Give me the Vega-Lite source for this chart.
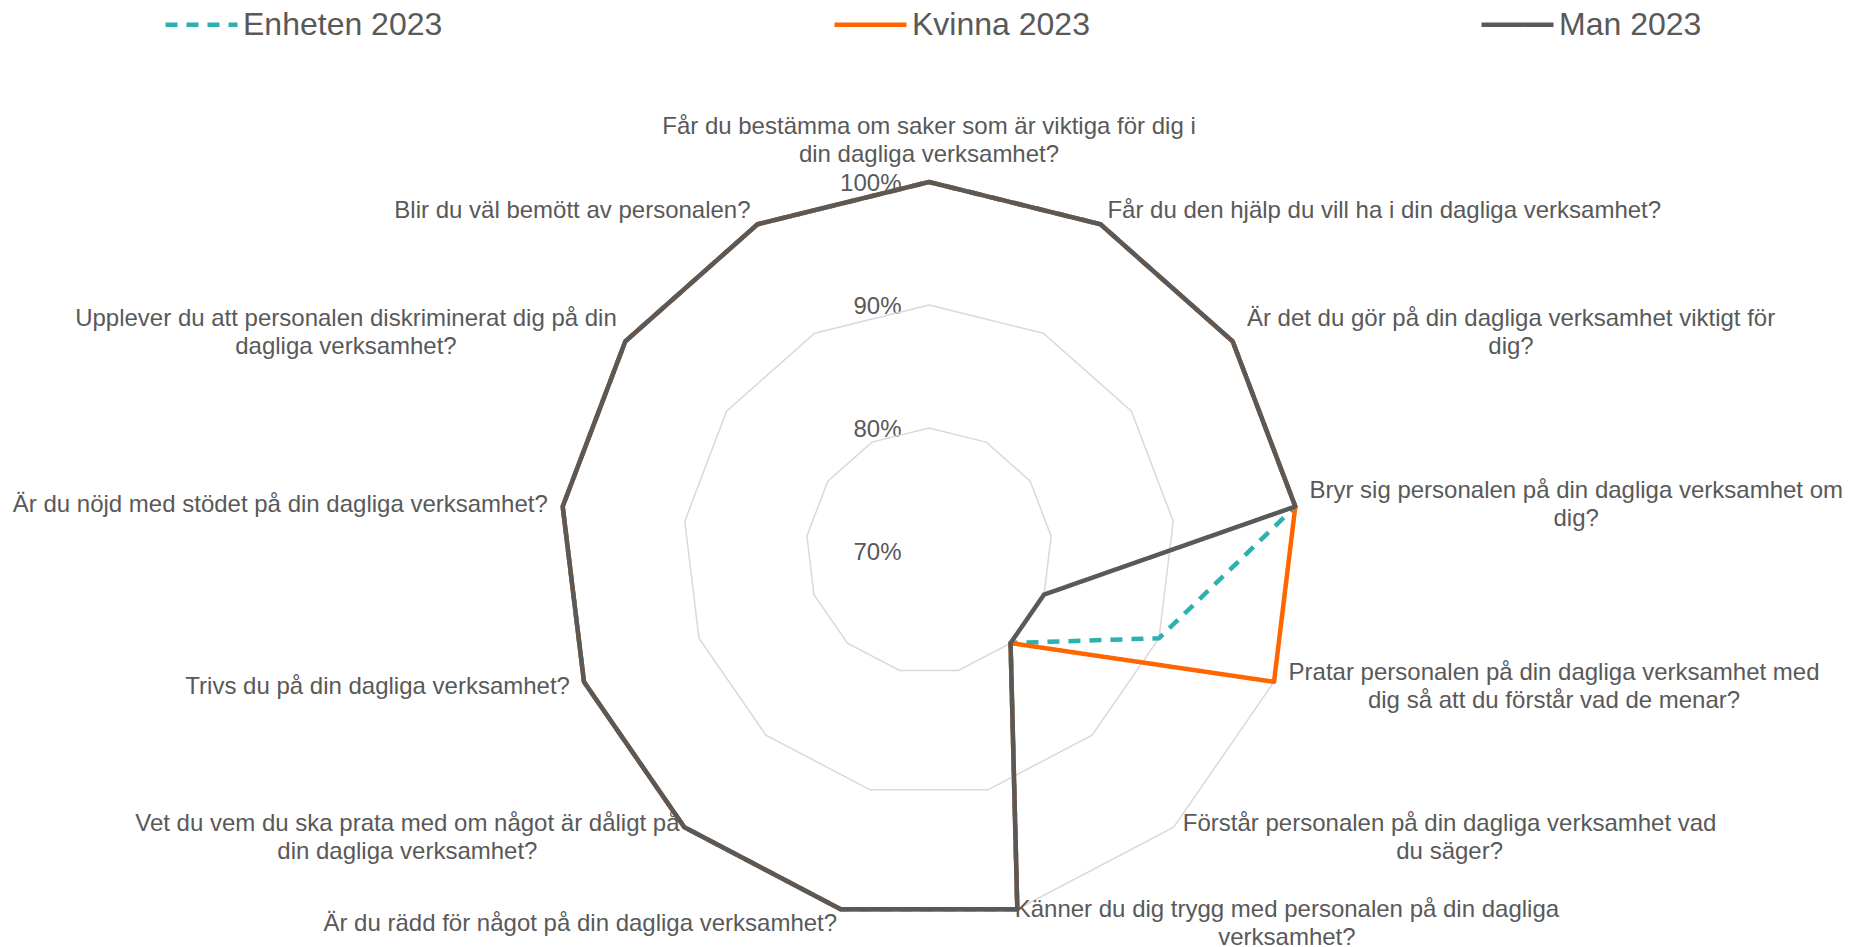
{
  "$schema": "https://vega.github.io/schema/vega-lite/v6.json",
  "width": 1849,
  "height": 947,
  "autosize": {"type": "none"},
  "padding": 0,
  "background": "white",
  "config": {"view": {"stroke": null}, "font": "Liberation Sans"},
  "datasets": {
    "cats": [
      {"i": 0, "label": "Får du bestämma om saker som är viktiga för dig i\ndin dagliga verksamhet?"},
      {"i": 1, "label": "Får du den hjälp du vill ha i din dagliga verksamhet?"},
      {"i": 2, "label": "Är det du gör på din dagliga verksamhet viktigt för\ndig?"},
      {"i": 3, "label": "Bryr sig personalen på din dagliga verksamhet om\ndig?"},
      {"i": 4, "label": "Pratar personalen på din dagliga verksamhet med\ndig så att du förstår vad de menar?"},
      {"i": 5, "label": "Förstår personalen på din dagliga verksamhet vad\ndu säger?"},
      {"i": 6, "label": "Känner du dig trygg med personalen på din dagliga\nverksamhet?"},
      {"i": 7, "label": "Är du rädd för något på din dagliga verksamhet?"},
      {"i": 8, "label": "Vet du vem du ska prata med om något är dåligt på\ndin dagliga verksamhet?"},
      {"i": 9, "label": "Trivs du på din dagliga verksamhet?"},
      {"i": 10, "label": "Är du nöjd med stödet på din dagliga verksamhet?"},
      {"i": 11, "label": "Upplever du att personalen diskriminerat dig på din\ndagliga verksamhet?"},
      {"i": 12, "label": "Blir du väl bemött av personalen?"}
    ],
    "scores": [
      {"serie": "Enheten 2023", "i": 0, "value": 1.0},
      {"serie": "Enheten 2023", "i": 1, "value": 1.0},
      {"serie": "Enheten 2023", "i": 2, "value": 1.0},
      {"serie": "Enheten 2023", "i": 3, "value": 1.0},
      {"serie": "Enheten 2023", "i": 4, "value": 0.9},
      {"serie": "Enheten 2023", "i": 5, "value": 0.8},
      {"serie": "Enheten 2023", "i": 6, "value": 1.0},
      {"serie": "Enheten 2023", "i": 7, "value": 1.0},
      {"serie": "Enheten 2023", "i": 8, "value": 1.0},
      {"serie": "Enheten 2023", "i": 9, "value": 1.0},
      {"serie": "Enheten 2023", "i": 10, "value": 1.0},
      {"serie": "Enheten 2023", "i": 11, "value": 1.0},
      {"serie": "Enheten 2023", "i": 12, "value": 1.0},
      {"serie": "Kvinna 2023", "i": 0, "value": 1.0},
      {"serie": "Kvinna 2023", "i": 1, "value": 1.0},
      {"serie": "Kvinna 2023", "i": 2, "value": 1.0},
      {"serie": "Kvinna 2023", "i": 3, "value": 1.0},
      {"serie": "Kvinna 2023", "i": 4, "value": 1.0},
      {"serie": "Kvinna 2023", "i": 5, "value": 0.8},
      {"serie": "Kvinna 2023", "i": 6, "value": 1.0},
      {"serie": "Kvinna 2023", "i": 7, "value": 1.0},
      {"serie": "Kvinna 2023", "i": 8, "value": 1.0},
      {"serie": "Kvinna 2023", "i": 9, "value": 1.0},
      {"serie": "Kvinna 2023", "i": 10, "value": 1.0},
      {"serie": "Kvinna 2023", "i": 11, "value": 1.0},
      {"serie": "Kvinna 2023", "i": 12, "value": 1.0},
      {"serie": "Man 2023", "i": 0, "value": 1.0},
      {"serie": "Man 2023", "i": 1, "value": 1.0},
      {"serie": "Man 2023", "i": 2, "value": 1.0},
      {"serie": "Man 2023", "i": 3, "value": 1.0},
      {"serie": "Man 2023", "i": 4, "value": 0.8},
      {"serie": "Man 2023", "i": 5, "value": 0.8},
      {"serie": "Man 2023", "i": 6, "value": 1.0},
      {"serie": "Man 2023", "i": 7, "value": 1.0},
      {"serie": "Man 2023", "i": 8, "value": 1.0},
      {"serie": "Man 2023", "i": 9, "value": 1.0},
      {"serie": "Man 2023", "i": 10, "value": 1.0},
      {"serie": "Man 2023", "i": 11, "value": 1.0},
      {"serie": "Man 2023", "i": 12, "value": 1.0}
    ],
    "rings": [
      {"level": 0.8, "i": [0, 1, 2, 3, 4, 5, 6, 7, 8, 9, 10, 11, 12]},
      {"level": 0.9, "i": [0, 1, 2, 3, 4, 5, 6, 7, 8, 9, 10, 11, 12]},
      {"level": 1.0, "i": [0, 1, 2, 3, 4, 5, 6, 7, 8, 9, 10, 11, 12]}
    ]
  },
  "encoding": {
    "x": {"field": "px", "type": "quantitative", "scale": {"domain": [-2.5176, 2.4932], "nice": false, "zero": false}, "axis": null},
    "y": {
      "field": "py", "type": "quantitative",
      "scale": {"domain": [-1.0732, 1.4932], "nice": false, "zero": false},
      "axis": {
        "orient": "left", "offset": -929, "values": [0, 0.333333, 0.666667, 1],
        "labelExpr": "format(0.7 + datum.value * 0.3, '.0%')",
        "domain": false, "ticks": false, "tickSize": 0, "grid": false,
        "labelPadding": 28, "labelOffset": 2, "labelFontSize": 24, "labelColor": "#595959",
        "labelFont": "Liberation Sans", "labelFlush": false, "labelOverlap": false, "title": null
      }
    }
  },
  "layer": [
    {
      "data": {"name": "rings"},
      "transform": [
        {"flatten": ["i"]},
        {"calculate": "2 * PI * datum.i / 13", "as": "ang"},
        {"calculate": "(datum.level - 0.7) / 0.3", "as": "r"},
        {"calculate": "datum.r * sin(datum.ang)", "as": "px"},
        {"calculate": "datum.r * cos(datum.ang)", "as": "py"}
      ],
      "mark": {"type": "line", "interpolate": "linear-closed", "stroke": "#D9D9D9", "strokeWidth": 1.5},
      "encoding": {"detail": {"field": "level", "type": "nominal"}, "order": {"field": "i", "type": "quantitative"}}
    },
    {
      "data": {"name": "scores"},
      "transform": [
        {"calculate": "2 * PI * datum.i / 13", "as": "ang"},
        {"calculate": "(datum.value - 0.7) / 0.3", "as": "r"},
        {"calculate": "datum.r * sin(datum.ang)", "as": "px"},
        {"calculate": "datum.r * cos(datum.ang)", "as": "py"}
      ],
      "mark": {"type": "line", "interpolate": "linear-closed", "strokeWidth": 4.5, "strokeJoin": "round"},
      "encoding": {
        "color": {
          "field": "serie", "type": "nominal",
          "scale": {"domain": ["Enheten 2023", "Kvinna 2023", "Man 2023"], "range": ["#2DB0B0", "#FF6600", "#595959"]},
          "legend": {"orient": "none", "legendX": 163, "legendY": -14, "direction": "horizontal", "title": null, "symbolType": "stroke", "symbolSize": 5184, "symbolStrokeWidth": 4.5, "labelFontSize": 32, "labelColor": "#595959", "labelFont": "Liberation Sans", "columnPadding": 382, "labelOffset": 3, "padding": 0, "labelLimit": 0}
        },
        "strokeDash": {
          "field": "serie", "type": "nominal",
          "scale": {"domain": ["Enheten 2023", "Kvinna 2023", "Man 2023"], "range": [[12, 9], [1, 0], [1, 0]]},
          "legend": {"orient": "none", "legendX": 163, "legendY": -14, "direction": "horizontal", "title": null, "symbolType": "stroke", "symbolSize": 5184, "symbolStrokeWidth": 4.5, "labelFontSize": 32, "labelColor": "#595959", "labelFont": "Liberation Sans", "columnPadding": 382, "labelOffset": 3, "padding": 0, "labelLimit": 0}
        },
        "order": {"field": "i", "type": "quantitative"}
      }
    },
    {
      "data": {"name": "cats"},
      "transform": [
        {"filter": "datum.i == 0"},
        {"calculate": "2 * PI * datum.i / 13", "as": "ang"},
        {"calculate": "1.04065 * sin(datum.ang)", "as": "px"},
        {"calculate": "1.04065 * cos(datum.ang)", "as": "py"}
      ],
      "mark": {"type": "text", "align": "center", "baseline": "bottom", "dy": -28, "fontSize": 24, "lineHeight": 28, "lineBreak": "\n", "color": "#595959"},
      "encoding": {"text": {"field": "label"}}
    },
    {
      "data": {"name": "cats"},
      "transform": [
        {"filter": "datum.i >= 1 && datum.i <= 6 && indexof(datum.label, '\\n') < 0"},
        {"calculate": "2 * PI * datum.i / 13", "as": "ang"},
        {"calculate": "1.04065 * sin(datum.ang)", "as": "px"},
        {"calculate": "1.04065 * cos(datum.ang)", "as": "py"}
      ],
      "mark": {"type": "text", "align": "left", "baseline": "middle", "fontSize": 24, "lineHeight": 28, "lineBreak": "\n", "color": "#595959"},
      "encoding": {"text": {"field": "label"}}
    },
    {
      "data": {"name": "cats"},
      "transform": [
        {"filter": "datum.i >= 1 && datum.i <= 6 && indexof(datum.label, '\\n') >= 0"},
        {"calculate": "2 * PI * datum.i / 13", "as": "ang"},
        {"calculate": "1.04065 * sin(datum.ang)", "as": "px"},
        {"calculate": "1.04065 * cos(datum.ang)", "as": "py"}
      ],
      "mark": {"type": "text", "align": "center", "baseline": "middle", "dx": 266, "dy": -14, "fontSize": 24, "lineHeight": 28, "lineBreak": "\n", "color": "#595959"},
      "encoding": {"text": {"field": "label"}}
    },
    {
      "data": {"name": "cats"},
      "transform": [
        {"filter": "datum.i >= 7 && indexof(datum.label, '\\n') < 0"},
        {"calculate": "2 * PI * datum.i / 13", "as": "ang"},
        {"calculate": "1.04065 * sin(datum.ang)", "as": "px"},
        {"calculate": "1.04065 * cos(datum.ang)", "as": "py"}
      ],
      "mark": {"type": "text", "align": "right", "baseline": "middle", "fontSize": 24, "lineHeight": 28, "lineBreak": "\n", "color": "#595959"},
      "encoding": {"text": {"field": "label"}}
    },
    {
      "data": {"name": "cats"},
      "transform": [
        {"filter": "datum.i >= 7 && indexof(datum.label, '\\n') >= 0"},
        {"calculate": "2 * PI * datum.i / 13", "as": "ang"},
        {"calculate": "1.04065 * sin(datum.ang)", "as": "px"},
        {"calculate": "1.04065 * cos(datum.ang)", "as": "py"}
      ],
      "mark": {"type": "text", "align": "center", "baseline": "middle", "dx": -267, "dy": -14, "fontSize": 24, "lineHeight": 28, "lineBreak": "\n", "color": "#595959"},
      "encoding": {"text": {"field": "label"}}
    }
  ]
}
